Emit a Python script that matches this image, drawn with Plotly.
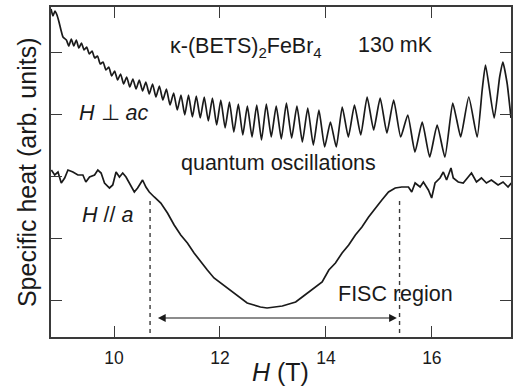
import plotly.graph_objects as go

# ---- Data (H in tesla, specific heat in arbitrary units) ----
# H perpendicular to ac : oscillating trace (read peak / trough points)
H_perp = [8.810, 8.848, 8.885, 8.923, 8.961, 8.998, 9.036,
          9.100, 9.146, 9.193, 9.240, 9.288, 9.336, 9.385, 9.434, 9.483, 9.534,
          9.585, 9.636, 9.688, 9.740, 9.793, 9.847, 9.901, 9.956, 10.011, 10.067,
          10.124, 10.181, 10.239, 10.297, 10.356, 10.416, 10.477, 10.539, 10.601, 10.664,
          10.727, 10.791, 10.856, 10.922, 10.989, 11.057, 11.125, 11.194, 11.264, 11.335,
          11.406, 11.479, 11.553, 11.628, 11.703, 11.780, 11.858, 11.937, 12.016, 12.097,
          12.179, 12.262, 12.346, 12.431, 12.517, 12.605, 12.694, 12.784, 12.875, 12.968,
          13.062, 13.158, 13.254, 13.353, 13.453, 13.555, 13.657, 13.762, 13.868, 13.976,
          14.085, 14.196, 14.308, 14.423, 14.539, 14.658, 14.778, 14.901, 15.024, 15.151,
          15.279, 15.412, 15.545, 15.681, 15.818, 15.959, 16.100, 16.246, 16.393, 16.470,
          16.545, 16.697, 16.855, 16.950, 17.013, 17.176, 17.280, 17.340, 17.420, 17.494]
C_perp = [291, 284, 289, 285, 278, 270, 263,
          260, 254, 261, 254, 260, 252, 257, 250, 253, 246,
          249, 242, 244, 236, 238, 230, 233, 224, 229, 220,
          226, 216, 223, 213, 221, 211, 220, 209, 218, 206,
          216, 203, 214, 200, 211, 195, 207, 190, 205, 185,
          205, 183, 204, 182, 203, 179, 202, 175, 200, 172,
          198, 168, 196, 165, 194, 163, 195, 160, 196, 163,
          194, 161, 197, 162, 194, 158, 192, 155, 190, 153,
          178, 153, 193, 163, 195, 165, 203, 170, 202, 167,
          200, 163, 185, 148, 178, 143, 175, 143, 197, 180,
          163, 203, 163, 210, 235, 182, 223, 238, 217, 182]

# H parallel to a : FISC dip
H_par = [8.816, 8.880, 8.942, 9.004, 9.068, 9.130, 9.224, 9.318, 9.412, 9.468,
         9.538, 9.632, 9.694, 9.756, 9.820, 9.914, 9.976, 10.038, 10.102, 10.164,
         10.226, 10.289, 10.383, 10.445, 10.539, 10.602, 10.665, 10.759, 10.883, 11.009,
         11.135, 11.259, 11.385, 11.511, 11.635, 11.761, 11.887, 12.011, 12.137, 12.263,
         12.387, 12.513, 12.639, 12.763, 12.889, 13.015, 13.177, 13.303, 13.429, 13.553,
         13.679, 13.805, 13.929, 14.055, 14.180, 14.305, 14.430, 14.556, 14.680, 14.806,
         14.932, 15.056, 15.182, 15.308, 15.432, 15.558, 15.620, 15.684, 15.778, 15.840,
         15.934, 15.996, 16.060, 16.154, 16.216, 16.278, 16.361, 16.404, 16.498, 16.592,
         16.686, 16.748, 16.842, 16.936, 17.030, 17.124, 17.250, 17.344, 17.438, 17.500]
C_par = [130, 125, 128, 117, 122, 130, 128, 125, 125, 118,
         123, 125, 130, 127, 117, 112, 115, 128, 123, 127,
         123, 117, 108, 112, 120, 113, 108, 103, 97, 87,
         75, 65, 57, 47, 38, 30, 22, 17, 12, 7,
         2, -3, -5, -7, -8, -7, -6, -4, -2, 3,
         8, 13, 18, 30, 37, 47, 55, 65, 73, 83,
         92, 100, 108, 112, 113, 113, 108, 117, 113, 118,
         110, 102, 117, 122, 128, 120, 132, 122, 118, 117,
         123, 127, 118, 122, 117, 120, 115, 118, 113, 117]

# FISC boundaries (dashed lines) and arrow span
fisc_bounds = [10.68, 15.39]
dash_span = [-33, 101]
arrow_span = [10.80, 15.34]
arrow_level = -18

x_ticks = [10, 12, 14, 16]
x_range = [8.81, 17.494]
y_range = [-37, 293]

FONT = "Liberation Sans, Arial, sans-serif"
INK = "#1a1a1a"
AX = "#3a3a3a"

fig = go.Figure()
fig.add_trace(go.Scatter(x=H_perp, y=C_perp, mode="lines",
                         line=dict(color=INK, width=1.7, shape="spline", smoothing=0.5),
                         showlegend=False))
fig.add_trace(go.Scatter(x=H_par, y=C_par, mode="lines",
                         line=dict(color=INK, width=1.7),
                         showlegend=False))
for xb in fisc_bounds:
    fig.add_trace(go.Scatter(x=[xb, xb], y=dash_span, mode="lines",
                             line=dict(color=AX, width=1.4, dash="4px,4px"),
                             showlegend=False))

fig.add_annotation(x=arrow_span[1], y=arrow_level, ax=arrow_span[0], ay=arrow_level,
                   xref="x", yref="y", axref="x", ayref="y", text="",
                   showarrow=True, arrowhead=2, arrowside="end+start",
                   arrowsize=1.3, arrowwidth=1.2, arrowcolor=INK, standoff=0, startstandoff=0)

ann_font = dict(family=FONT, size=21.5, color=INK)
texts = [
    ("κ-(BETS)<sub>2</sub>FeBr<sub>4</sub>", 11.013, 253),
    ("130 mK", 14.562, 255),
    ("<i>H</i> ⊥ <i>ac</i>", 9.299, 187.5),
    ("quantum oscillations", 11.235, 137),
    ("<i>H</i> // <i>a</i>", 9.355, 85.5),
    ("FISC region", 14.186, 6),
]
for t, x, y in texts:
    fig.add_annotation(x=x, y=y, xref="x", yref="y", text=t, showarrow=False,
                       xanchor="left", yanchor="middle", font=ann_font)

# axis titles (paper coords are relative to the plot area)
fig.add_annotation(x=(281.5 - 51) / 462, y=(337 - 372) / 330, xref="paper", yref="paper",
                   text="<i>H</i> (T)", showarrow=False, xanchor="center", yanchor="middle",
                   font=dict(family=FONT, size=25, color=INK))
fig.add_annotation(x=(27 - 51) / 462, y=(337 - 172) / 330, xref="paper", yref="paper",
                   text="Specific heat (arb. units)", textangle=-90, showarrow=False,
                   xanchor="center", yanchor="middle",
                   font=dict(family=FONT, size=25, color=INK))

axis_common = dict(showline=True, linecolor=AX, linewidth=1.5, mirror="ticks",
                   ticks="inside", ticklen=11, tickwidth=1.3, tickcolor=AX,
                   showgrid=False, zeroline=False)
fig.update_xaxes(range=x_range, tickvals=x_ticks, ticktext=[str(v) for v in x_ticks],
                 tickfont=dict(family=FONT, size=17.5, color=INK), ticklabelstandoff=4,
                 **axis_common)
fig.update_yaxes(range=y_range, tick0=0, dtick=62, showticklabels=False, **axis_common)

fig.update_layout(width=515, height=390, margin=dict(l=51, r=2, t=7, b=53),
                  paper_bgcolor="white", plot_bgcolor="white", showlegend=False)

fig.write_html("out.html")
